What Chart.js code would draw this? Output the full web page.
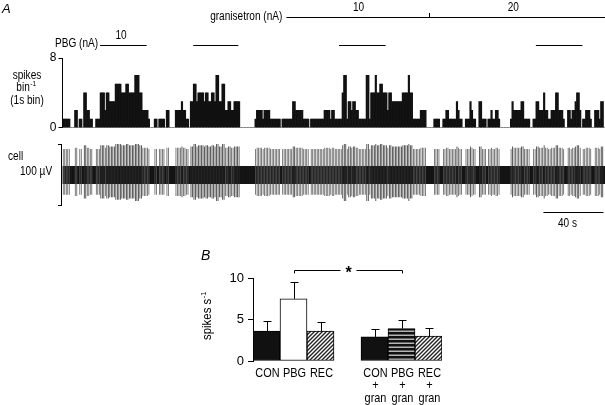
<!DOCTYPE html>
<html>
<head>
<meta charset="utf-8">
<script src="https://cdn.jsdelivr.net/npm/chart.js@4"></script>
<style>
  html, body { margin: 0; padding: 0; background: #fff; }
  body { width: 605px; height: 405px; position: relative; overflow: hidden; }
  canvas { position: absolute; }
</style>
</head>
<body>
<canvas id="hist" width="605" height="137" style="left:0;top:0"></canvas>
<canvas id="trace" width="605" height="95" style="left:0;top:135px"></canvas>
<canvas id="bars" width="270" height="165" style="left:190px;top:240px"></canvas>
<script>
// ---- data: panel A, spikes per 1 s bin (one digit per bin) ----
const spikeCounts = (
    '1111100022011044221100111444' +
    '244333355554445544446664422221' +
    '00011011110220000222232211033553' +
    '4444344334436633552233223333' +
    '00000000001222212222111111101111111' +
    '332222211110111111111222212211111' +
    '466133233221111166144464455444244' +
    '3333333444464411111222200000111100' +
    '11221111132110011132110033111011211221' +
    '0000000132222233111100113322242211' +
    '222442221002212234420112221002221330'
).split('').map(Number);
const histTicks = [0, 8];

// drug application periods (s from start of record)
const pbgStart = [25, 87, 184, 315];
const pbgEnd = [56, 117, 215, 346];
const pbgDose = '10';
const pbgDoseAt = 39;
const granStart = 149;
const granSwitch = 244;
const granDoses = ['10', '20'];
const granDoseAt = [197, 300];
const scaleBarStart = 320;
const scaleBarSeconds = 40;

// ---- data: panel B ----
const bCategories = ['CON', 'PBG', 'REC', 'CON', 'PBG', 'REC'];
const bGranisetron = [false, false, false, true, true, true];
const bMeans = [3.6, 7.5, 3.6, 2.9, 3.9, 3.0];
const bErrors = [1.2, 2.0, 1.1, 0.95, 1.1, 1.0];
const bTicks = [0, 5, 10];
const sigPair = [1, 4];

const FONT = '"Liberation Sans", Arial, sans-serif';
const SQUEEZE = 0.84;   // the figure uses a condensed sans
Chart.defaults.font.family = FONT;
Chart.defaults.font.size = 12;
Chart.defaults.color = '#000';

function text(ctx, s, x, y, o = {}) {
    ctx.save();
    ctx.font = `${o.style || ''} ${o.size || 12}px ${FONT}`;
    ctx.fillStyle = '#000';
    ctx.textAlign = o.align || 'left';
    ctx.textBaseline = 'middle';
    ctx.translate(x, y);
    ctx.scale(o.squeeze || SQUEEZE, 1);
    ctx.fillText(s, 0, 0);
    ctx.restore();
}

// text with a small raised suffix, centred on x
function supText(ctx, base, sup, x, y, squeeze = SQUEEZE) {
    ctx.save();
    ctx.font = `12px ${FONT}`;
    const w1 = ctx.measureText(base).width * squeeze;
    ctx.font = `8px ${FONT}`;
    const w2 = ctx.measureText(sup).width * squeeze;
    ctx.restore();
    const x0 = x - (w1 + w2) / 2;
    text(ctx, base, x0, y, { squeeze });
    text(ctx, sup, x0 + w1 + 0.5, y - 4, { size: 8, squeeze });
}

function line(ctx, x1, y1, x2, y2) {
    ctx.save();
    ctx.strokeStyle = '#000';
    ctx.lineWidth = 1;
    ctx.beginPath();
    ctx.moveTo(x1, y1);
    ctx.lineTo(x2, y2);
    ctx.stroke();
    ctx.restore();
}

const bins = spikeCounts.map((_, i) => i);

// ---- panel A: histogram ----
const panelA = {
    id: 'panelA',
    afterDraw(chart) {
        const ctx = chart.ctx, xs = chart.scales.x;
        const at = t => xs.getPixelForValue(t - 0.5);
        text(ctx, 'A', 2, 9, { style: 'italic', size: 13, squeeze: 1 });

        text(ctx, 'granisetron (nA)', at(granStart) - 4, 17, { align: 'right' });
        line(ctx, at(granStart), 17.5, chart.chartArea.right, 17.5);
        line(ctx, Math.round(at(granSwitch)) + 0.5, 17.5, Math.round(at(granSwitch)) + 0.5, 13);
        granDoses.forEach((d, i) => text(ctx, d, at(granDoseAt[i]), 8, { align: 'center' }));

        text(ctx, 'PBG (nA)', at(pbgStart[0]) - 2, 44, { align: 'right' });
        pbgStart.forEach((s, i) => line(ctx, at(s), 45.5, at(pbgEnd[i]), 45.5));
        text(ctx, pbgDose, at(pbgDoseAt), 36, { align: 'center' });

        text(ctx, 'spikes', 27, 76, { align: 'center' });
        supText(ctx, 'bin', '-1', 26, 88);
        text(ctx, '(1s bin)', 27, 101, { align: 'center' });
    }
};

new Chart(document.getElementById('hist'), {
    type: 'bar',
    data: {
        labels: bins,
        datasets: [{
            data: spikeCounts,
            backgroundColor: '#111',
            borderWidth: 0,
            barPercentage: 1,
            categoryPercentage: 1
        }]
    },
    options: {
        responsive: false,
        animation: false,
        layout: { padding: { top: 58, bottom: 7, left: 0, right: 0 } },
        plugins: { legend: { display: false }, tooltip: { enabled: false } },
        scales: {
            x: { display: false },
            y: {
                min: 0, max: 8,
                afterBuildTicks: s => { s.ticks = histTicks.map(v => ({ value: v })); },
                afterFit: s => { s.width = 62.5; },
                grid: { display: true, drawOnChartArea: false, drawTicks: true, tickLength: 4, color: '#000' },
                border: { display: true, color: '#000' },
                ticks: { padding: 2, color: '#000', font: { size: 12 } }
            }
        }
    },
    plugins: [panelA]
});

// ---- panel A: extracellular record, spikes placed in the bins above ----
const noiseUV = 14;
const traceAnnot = {
    id: 'traceAnnot',
    afterDraw(chart) {
        const ctx = chart.ctx, xs = chart.scales.x, a = chart.chartArea;
        const at = t => xs.getPixelForValue(t - 0.5);
        text(ctx, 'cell', 8, 22);
        text(ctx, '100 \u00b5V', 20, 37);
        line(ctx, 61.5, a.top, 61.5, a.bottom);
        line(ctx, 58, a.top + 0.5, 61.5, a.top + 0.5);
        line(ctx, 58, a.bottom - 0.5, 61.5, a.bottom - 0.5);
        line(ctx, at(scaleBarStart), 77.5, at(scaleBarStart + scaleBarSeconds), 77.5);
        text(ctx, scaleBarSeconds + ' s', (at(scaleBarStart) + at(scaleBarStart + scaleBarSeconds)) / 2 - 6, 89, { align: 'center' });
    }
};

new Chart(document.getElementById('trace'), {
    type: 'bar',
    data: {
        labels: bins,
        datasets: [{
            // spikes: taller excursions where more spikes fell in the bin
            data: spikeCounts.map(c => c > 0 ? [-(30 + 2 * c), 40 + 2 * c] : null),
            backgroundColor: ctx => spikeCounts[ctx.dataIndex] >= 3 ? '#2a2a2a' : '#555',
            borderWidth: 0,
            barPercentage: 0.5,
            categoryPercentage: 1,
            grouped: false
        }, {
            data: spikeCounts.map(() => [-noiseUV, noiseUV]),
            backgroundColor: '#141414',
            borderWidth: 0,
            barPercentage: 1,
            categoryPercentage: 1,
            grouped: false
        }]
    },
    options: {
        responsive: false,
        animation: false,
        layout: { padding: { top: 9, bottom: 24, left: 62.5, right: 0 } },
        plugins: { legend: { display: false }, tooltip: { enabled: false } },
        scales: {
            x: { display: false },
            y: { display: false, min: -50, max: 50 }
        }
    },
    plugins: [traceAnnot]
});

// ---- panel B ----
function hatchPattern() {
    const c = document.createElement('canvas');
    c.width = c.height = 4;
    const g = c.getContext('2d');
    g.fillStyle = '#fff';
    g.fillRect(0, 0, 4, 4);
    g.strokeStyle = '#222';
    g.lineWidth = 1.4;
    g.beginPath();
    g.moveTo(0, 4); g.lineTo(4, 0);
    g.moveTo(-1, 1); g.lineTo(1, -1);
    g.moveTo(3, 5); g.lineTo(5, 3);
    g.stroke();
    return g.createPattern(c, 'repeat');
}
function stripePattern() {
    const c = document.createElement('canvas');
    c.width = 4; c.height = 4;
    const g = c.getContext('2d');
    g.fillStyle = '#111';
    g.fillRect(0, 0, 4, 4);
    g.fillStyle = '#ddd';
    g.fillRect(0, 2.6, 4, 1.2);
    return g.createPattern(c, 'repeat');
}
const hatch = hatchPattern(), stripes = stripePattern();
const bFills = ['#111', '#fff', hatch, '#111', stripes, hatch];

// one empty slot between the two groups
const gapAfter = 2;
const slotOf = i => i > gapAfter ? i + 1 : i;
const bLabels = [], bSlotValues = [], bSlotFills = [];
bCategories.forEach((c, i) => {
    if (i === gapAfter + 1) { bLabels.push(''); bSlotValues.push(null); bSlotFills.push('#fff'); }
    bLabels.push(bGranisetron[i] ? [c, '+', 'gran'] : [c]);
    bSlotValues.push(bMeans[i]);
    bSlotFills.push(bFills[i]);
});

const panelB = {
    id: 'panelB',
    afterDraw(chart) {
        const ctx = chart.ctx, xs = chart.scales.x, ys = chart.scales.y;
        const base = chart.chartArea.bottom;
        bMeans.forEach((m, i) => {
            const x = Math.round(xs.getPixelForValue(slotOf(i))) + 0.5;
            const y0 = ys.getPixelForValue(m);
            const y1 = Math.round(ys.getPixelForValue(m + bErrors[i])) + 0.5;
            line(ctx, x, y0, x, y1);
            line(ctx, x - 4, y1, x + 4, y1);
            // category labels, condensed like the original
            const rows = bLabels[slotOf(i)];
            rows.forEach((r, k) => text(ctx, r, x, base + 12 + k * 12.5, { align: 'center', size: 13 }));
        });
        // significance bracket
        const xa = Math.round(xs.getPixelForValue(slotOf(sigPair[0]))) + 0.5;
        const xb = Math.round(xs.getPixelForValue(slotOf(sigPair[1]))) + 0.5;
        const yb = Math.round(ys.getPixelForValue(11)) + 0.5;
        const yt = ys.getPixelForValue(10.55);
        const xm = (xa + xb) / 2;
        line(ctx, xa, yt, xa, yb);
        line(ctx, xa, yb, xm - 8, yb);
        line(ctx, xm + 8, yb, xb, yb);
        line(ctx, xb, yb, xb, yt);
        text(ctx, '*', xm, yb + 3, { align: 'center', size: 16, style: 'bold', squeeze: 1 });

        text(ctx, 'B', 11, 16, { style: 'italic', size: 14, squeeze: 1 });
        ctx.save();
        ctx.translate(18, 76);
        ctx.rotate(-Math.PI / 2);
        supText(ctx, 'spikes s', '-1', 0, 0, 0.95);
        ctx.restore();
    }
};

new Chart(document.getElementById('bars'), {
    type: 'bar',
    data: {
        labels: bLabels,
        datasets: [{
            data: bSlotValues,
            backgroundColor: bSlotFills,
            borderColor: '#000',
            borderWidth: 1,
            borderSkipped: false,
            barPercentage: 1,
            categoryPercentage: 1
        }]
    },
    options: {
        responsive: false,
        animation: false,
        layout: { padding: { top: 38, right: 18, left: 0, bottom: 0 } },
        plugins: { legend: { display: false }, tooltip: { enabled: false } },
        scales: {
            x: {
                grid: { display: false, drawTicks: false },
                border: { display: false },
                afterFit: s => { s.height = 44; },
                ticks: { display: false }
            },
            y: {
                min: 0, max: 10,
                afterBuildTicks: s => { s.ticks = bTicks.map(v => ({ value: v })); },
                afterFit: s => { s.width = 63; },
                grid: { display: true, drawOnChartArea: false, drawTicks: true, tickLength: 5, color: '#000' },
                border: { display: true, color: '#000' },
                ticks: { padding: 4, font: { size: 13 } }
            }
        }
    },
    plugins: [panelB]
});
</script>
</body>
</html>
